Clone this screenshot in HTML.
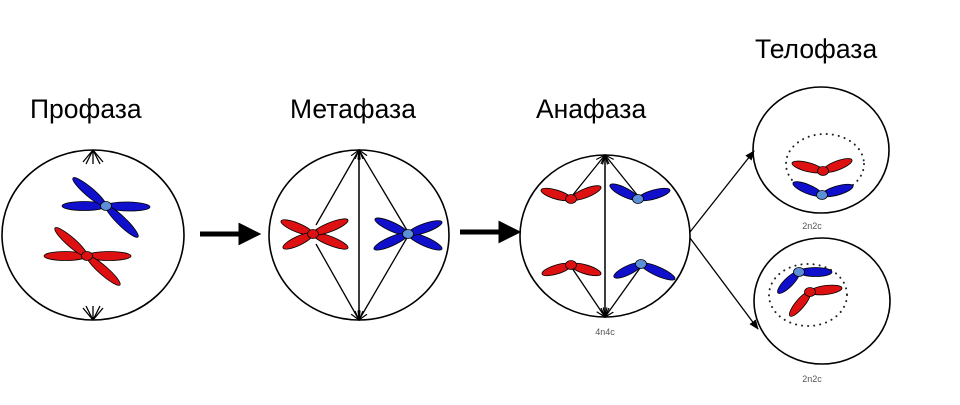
<!DOCTYPE html>
<html><head><meta charset="utf-8"><style>
html,body{margin:0;padding:0;background:#fff;width:960px;height:405px;overflow:hidden}
svg{position:absolute;left:0;top:0}
.t{font-family:"Liberation Sans",sans-serif;font-size:26.5px;fill:#000}
.s{font-family:"Liberation Sans",sans-serif;font-size:9px;fill:#555}
</style></head><body>
<svg id="s" width="960" height="405" viewBox="0 0 960 405" xmlns="http://www.w3.org/2000/svg">
<defs>
<marker id="a" markerWidth="10" markerHeight="10" refX="9" refY="5" orient="auto" markerUnits="userSpaceOnUse"><path d="M0,1 L9,5 L0,9" fill="none" stroke="#000" stroke-width="1.2"/></marker>
<marker id="b" markerWidth="10" markerHeight="10" refX="9" refY="5" orient="auto" markerUnits="userSpaceOnUse"><path d="M0,1 L10,5 L0,9 z" fill="#000"/></marker>
</defs>
<text class="t" x="30" y="118">Профаза</text>
<text class="t" x="290" y="118">Метафаза</text>
<text class="t" x="536" y="118">Анафаза</text>
<text class="t" x="755" y="58">Телофаза</text>
<g fill="none" stroke="#000" stroke-width="1.6">
<ellipse cx="93" cy="235" rx="91" ry="85"/>
<ellipse cx="359" cy="235" rx="90" ry="85"/>
<ellipse cx="605" cy="236" rx="85" ry="81"/>
<ellipse cx="821" cy="150" rx="68" ry="63"/>
<ellipse cx="822" cy="301" rx="68" ry="63"/>
</g>
<g stroke="#000" stroke-width="1.3" fill="none">
<path d="M93,150 L93,164 M93,150 L83,162 M93,150 L103,162 M93,150 L86,164 M93,150 L100,164 M93,320 L93,306 M93,320 L83,308 M93,320 L103,308 M93,320 L86,306 M93,320 L100,306"/>
<line x1="359" y1="320" x2="359" y2="150" marker-end="url(#a)"/>
<line x1="359" y1="150" x2="359" y2="320" marker-end="url(#a)"/>
<line x1="316" y1="225" x2="359" y2="150" marker-end="url(#a)"/>
<line x1="316" y1="244" x2="359" y2="320" marker-end="url(#a)"/>
<line x1="408" y1="232" x2="359" y2="150" marker-end="url(#a)"/>
<line x1="408" y1="236" x2="359" y2="320" marker-end="url(#a)"/>
<line x1="605" y1="317" x2="605" y2="155" marker-end="url(#a)"/>
<line x1="605" y1="155" x2="605" y2="317" marker-end="url(#a)"/>
<line x1="572" y1="196" x2="605" y2="155" marker-end="url(#a)"/>
<line x1="638" y1="196" x2="605" y2="155" marker-end="url(#a)"/>
<line x1="572" y1="268" x2="605" y2="317" marker-end="url(#a)"/>
<line x1="640" y1="268" x2="605" y2="317" marker-end="url(#a)"/>
<line x1="690" y1="232" x2="754" y2="151" marker-end="url(#b)"/>
<line x1="690" y1="238" x2="758" y2="329" marker-end="url(#b)"/>
</g>
<g stroke="#000" stroke-width="5">
<line x1="200" y1="234" x2="242" y2="234"/>
<line x1="460" y1="232" x2="502" y2="232"/>
</g>
<g stroke="#000" stroke-width="3" fill="#000">
<path d="M240,225 L258,234 L240,243 z"/>
<path d="M500,223 L518,232 L500,241 z"/>
</g>
<g fill="none" stroke="#222" stroke-width="2" stroke-dasharray="0.1 6" stroke-linecap="round">
<ellipse cx="825" cy="164" rx="39" ry="30"/>
<ellipse cx="808" cy="295" rx="39" ry="31"/>
</g>
<g id="ch"></g>
<text class="s" x="605" y="335" text-anchor="middle">4n4c</text>
<text class="s" x="812" y="229" text-anchor="middle">2n2c</text>
<text class="s" x="812" y="382" text-anchor="middle">2n2c</text>
</svg>
<script>
var R="#dd1111",B="#1010cc",RC="#dd1111",BC="#5b8fd8";
var out="";
function arm(cx,cy,ex,ey,c,w){var dx=ex-cx,dy=ey-cy,L=Math.sqrt(dx*dx+dy*dy),a=Math.atan2(dy,dx)*180/Math.PI;
out+='<ellipse cx="'+(cx+dx/2)+'" cy="'+(cy+dy/2)+'" rx="'+(L/2)+'" ry="'+(w||4.5)+'" transform="rotate('+a+' '+(cx+dx/2)+' '+(cy+dy/2)+')" fill="'+c+'" stroke="#000" stroke-width="0.8"/>';}
function cen(x,y,c){out+='<ellipse cx="'+x+'" cy="'+y+'" rx="5.5" ry="4.5" fill="'+c+'" stroke="#000" stroke-width="0.8"/>';}
function X(cx,cy,p,c,cc){for(var i=0;i<p.length;i++)arm(cx,cy,p[i][0],p[i][1],c);cen(cx,cy,cc);}
X(106,206,[[62,206],[150,207],[73,178],[138,237]],B,BC);
X(87,256,[[44,256],[131,256],[55,228],[120,285]],R,RC);
X(313,234,[[281,221],[348,248],[283,248],[348,220]],R,RC);
X(408,234,[[375,219],[442,249],[374,249],[442,222]],B,BC);
X(571,199,[[541,190],[601,187]],R,RC);
X(638,199,[[610,185],[670,190]],B,BC);
X(571,265,[[542,274],[601,274]],R,RC);
X(641,264,[[614,277],[675,279]],B,BC);
X(823,171,[[792,163],[852,160]],R,RC);
X(822,195,[[793,183],[853,186]],B,BC);
X(799,272,[[778,293],[832,272]],B,BC);
X(810,292,[[790,316],[842,288]],R,RC);
document.getElementById("ch").innerHTML=out;
</script>
</body></html>
